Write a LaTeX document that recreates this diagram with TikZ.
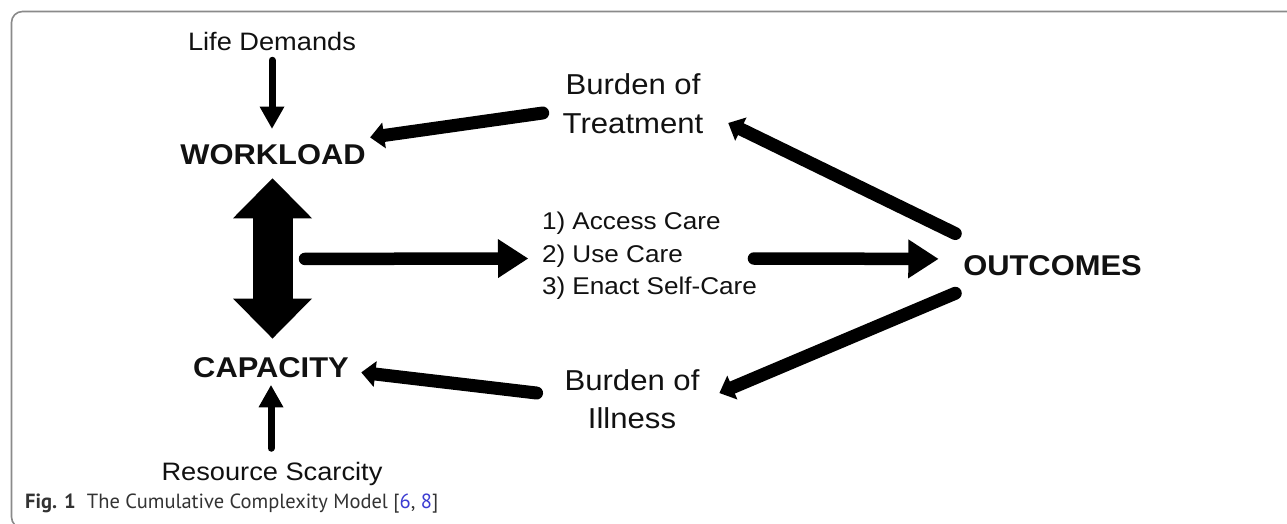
\documentclass[tikz,border=0pt]{standalone}
\usepackage{fontspec}
\setmainfont{Liberation Sans}
\newfontfamily\dfont{Liberation Sans}[FakeStretch=1.08]
\newfontfamily\capfont{PT Sans}
\usetikzlibrary{arrows.meta,calc}
\definecolor{framegray}{HTML}{8A8A8A}
\definecolor{refblue}{HTML}{3C3CD2}
\definecolor{capgray}{HTML}{333333}
\definecolor{ink}{HTML}{111111}
\begin{document}
\begin{tikzpicture}[x=1pt,y=-1pt,
  txt/.style={inner sep=0pt, outer sep=0pt, text=ink},
  reg/.style={txt, font=\dfont\fontsize{25.2}{30}\selectfont},
  big/.style={txt, align=center, font=\dfont\fontsize{28.8}{38.5}\selectfont},
  hd/.style={txt, font=\dfont\bfseries\fontsize{28.6}{34}\selectfont},
  steps/.style={txt, align=left, font=\dfont\fontsize{24.2}{32.5}\selectfont},
  smallarr/.style={draw=black, line width=7pt, line cap=round, -{Triangle[width=25pt,length=22pt,line width=0pt]}},
  midarr/.style={draw=black, line width=12.5pt, line cap=round, -{Triangle[width=39pt,length=30pt,line width=0pt]}},
  diagarr/.style={draw=black, line width=13pt, line cap=round, -{Triangle[width=26pt,length=14pt,line width=0pt]}},
  dblarr/.style={draw=black, line width=40pt, {Triangle[width=79pt,length=40pt,line width=0pt]}-{Triangle[width=79pt,length=40pt,line width=0pt]}},
]
\useasboundingbox (0,0) rectangle (1287,523);
\clip (0,0) rectangle (1287,523);
\fill[white] (0,0) rectangle (1287,523);
\draw[framegray, line width=1.6pt, rounded corners=11pt] (1300,11.5) -- (11.5,11.5) -- (11.5,528) -- (1300,528);

% nodes
\node[reg, anchor=base] (ld) at (272,50) {Life Demands};
\node[hd, anchor=base] (wl) at (273,164) {WORKLOAD};
\node[hd, anchor=base] (cap) at (271,377) {CAPACITY};
\node[reg, anchor=base] (rs) at (272,480) {Resource Scarcity};
\node[big] (bt) at (633,103.5) {Burden of\\Treatment};
\node[big] (bi) at (632,399) {Burden of\\Illness};
\node[steps, anchor=west] (st) at (542,256) {1) Access Care\\2) Use Care\\3) Enact Self-Care};
\node[hd, anchor=base] (out) at (1052.5,275) {OUTCOMES};
\node[anchor=base west, inner sep=0pt, text=capgray, font=\capfont\fontsize{20.5}{24}\selectfont] (fig) at (25,508)
  {\textbf{Fig. 1}\hspace{0.55em}The Cumulative Complexity Model [{\color{refblue}6}, {\color{refblue}8}]};

% connectors
\draw[smallarr] ($(ld.south)+(0,10)$) -- ($(wl.north)+(-1,-15.5)$);
\draw[smallarr] ($(rs.north)+(-1,-13.5)$) -- ($(cap.south)+(0,8)$);
\draw[dblarr] ($(wl.south)+(-0.5,14)$) -- ($(cap.north)+(1.5,-18.5)$);
\coordinate (hub) at ($(wl.south)!0.5!(cap.north)$);
\draw[midarr] ($(hub)+(33,-1.75)$) -- ($(st.west)+(-14,2.5)$);
\draw[midarr] ($(st.east)+(-3,2.5)$) -- ($(out.west)+(-25,-6.25)$);
\draw[diagarr] ($(bt.west)+(-20,9.5)$) -- ($(wl.east)+(4.5,-16.75)$);
\draw[diagarr] ($(out.north west)+(-8,-21.5)$) -- ($(bt.east)+(25,19.5)$);
\draw[diagarr] ($(out.south west)+(-8,18)$) -- ($(bi.east)+(20,-6)$);
\draw[diagarr] ($(bi.west)+(-28,-6)$) -- ($(cap.east)+(12.5,5.25)$);
\end{tikzpicture}
\end{document}
